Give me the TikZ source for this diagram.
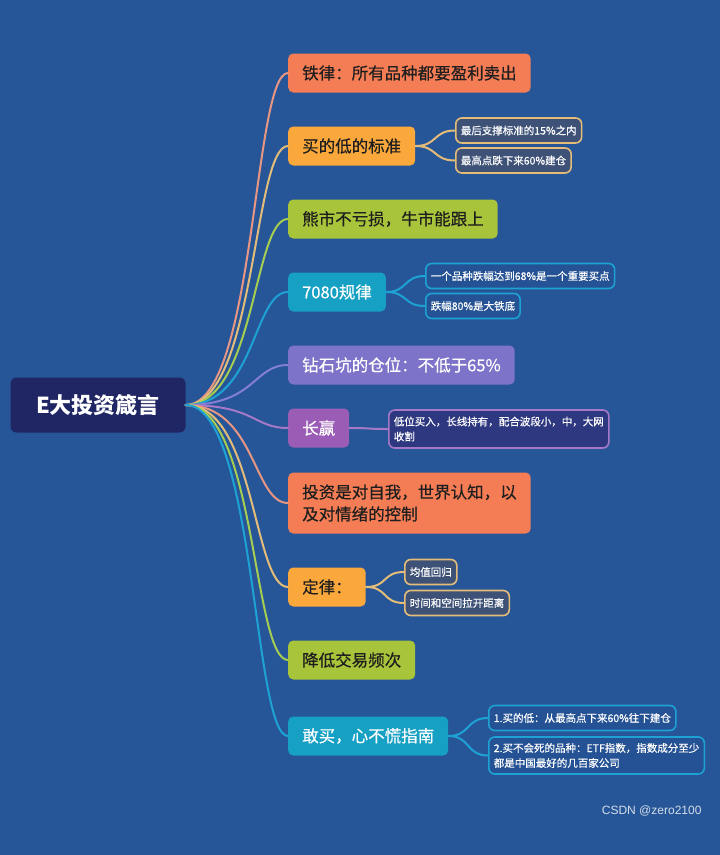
\documentclass[tikz,border=0pt]{standalone}
\usepackage{fontspec}
\newfontfamily\cjk{Noto Sans CJK SC}
\newfontfamily\cjkmed[FakeBold=0.4]{Noto Sans CJK SC}
\newfontfamily\wmfont{Liberation Sans}
\usepackage{tikz}
\usetikzlibrary{positioning,calc,patterns}

\definecolor{bgblue}{RGB}{38,86,152}
\definecolor{rootnavy}{RGB}{31,38,99}
\definecolor{cred}{RGB}{245,125,85}
\definecolor{corange}{RGB}{250,168,60}
\definecolor{cgreen}{RGB}{168,196,58}
\definecolor{cteal}{RGB}{22,160,196}
\definecolor{clav}{RGB}{125,115,200}
\definecolor{cpurple}{RGB}{155,92,182}
\definecolor{lred}{RGB}{232,150,132}
\definecolor{lorange}{RGB}{228,188,122}
\definecolor{lgreen}{RGB}{165,205,82}
\definecolor{lteal}{RGB}{30,162,212}
\definecolor{llav}{RGB}{132,126,215}
\definecolor{lpurple}{RGB}{165,120,200}
\definecolor{leafslate}{RGB}{62,82,120}
\definecolor{leafblue}{RGB}{36,82,148}
\definecolor{leafnavy}{RGB}{46,56,128}
\definecolor{inkdark}{RGB}{30,30,30}

\begin{document}
\begin{tikzpicture}[x=1pt,y=-1pt,
  every node/.style={font=\cjk},
  rootbox/.style={fill=rootnavy, rounded corners=6pt, minimum width=175pt, minimum height=55pt,
    text=white, font=\cjk\bfseries\fontsize{22}{26}\selectfont},
  branch/.style={anchor=west, rounded corners=5pt, minimum height=39pt, inner xsep=14pt,
    align=left, font=\cjkmed\fontsize{16.5}{22}\selectfont},
  warm/.style={branch, fill=#1, text=inkdark},
  cool/.style={branch, fill=#1, text=white},
  leaf/.style={anchor=west, rounded corners=6pt, line width=1.6pt, minimum height=25pt,
    inner xsep=5pt, align=left, text=white, font=\cjkmed\fontsize{10.5}{15}\selectfont},
  tanleaf/.style={leaf, draw=lorange, fill=leafslate},
  tealleaf/.style={leaf, draw=lteal, fill=leafblue},
  purpleaf/.style={leaf, draw=lpurple, fill=leafnavy},
  link/.style={line width=2pt, line cap=round}]

  % background
  \fill[bgblue] (0,0) rectangle (720,855);

  % root
  \node[rootbox] (root) at (98,405) {E大投资箴言};

  % main branches
  \node[warm=cred] (tielv) at (288,73) {铁律：所有品种都要盈利卖出};
  \node[warm=corange] (maidi) at (288,146) {买的低的标准};
  \node[warm=cgreen] (xiongshi) at (288,219) {熊市不亏损，牛市能跟上};
  \node[cool=cteal] (qiba) at (288,292) {7080规律};
  \node[cool=clav] (zuanshi) at (288,365) {钻石坑的仓位：不低于65\%};
  \node[cool=cpurple] (changying) at (288,428) {长赢};
  \node[warm=cred, minimum height=61pt] (touzi) at (288,503) {投资是对自我，世界认知，以\\及对情绪的控制};
  \node[warm=corange] (dinglv) at (288,587) {定律：};
  \node[warm=cgreen] (jiangdi) at (288,660) {降低交易频次};
  \node[cool=cteal] (ganmai) at (288,736) {敢买，心不慌指南};

  % leaves
  \node[tanleaf] (maidiA) at (455,130.5) {最后支撑标准的15\%之内};
  \node[tanleaf] (maidiB) at (455,160.5) {最高点跌下来60\%建仓};
  \node[tealleaf] (qibaA) at (425,276) {一个品种跌幅达到68\%是一个重要买点};
  \node[tealleaf] (qibaB) at (425,306) {跌幅80\%是大铁底};
  \node[purpleaf, minimum height=38pt] (changyingA) at (388,429) {低位买入，长线持有，配合波段小，中，大网\\收割};
  \node[tanleaf] (dinglvA) at (404,572) {均值回归};
  \node[tanleaf] (dinglvB) at (404,603) {时间和空间拉开距离};
  \node[tealleaf] (ganmaiA) at (488,718) {1.买的低：从最高点下来60\%往下建仓};
  \node[tealleaf, minimum height=37pt] (ganmaiB) at (488,755.5) {2.买不会死的品种：ETF指数，指数成分至少\\都是中国最好的几百家公司};

  % root links
  \foreach \dest/\col in {tielv/lred, maidi/lorange, xiongshi/lgreen, qiba/lteal,
      zuanshi/llav, changying/lpurple, touzi/lred, dinglv/lorange, jiangdi/lgreen, ganmai/lteal}
    \draw[link, \col] (root.east) .. controls ($(root.east)+(70,0)$) and ($(\dest.west)+(-35,0)$) .. (\dest.west);

  % leaf links
  \foreach \src/\dest/\col in {maidi/maidiA/lorange, maidi/maidiB/lorange, qiba/qibaA/lteal,
      qiba/qibaB/lteal, changying/changyingA/lpurple, dinglv/dinglvA/lorange,
      dinglv/dinglvB/lorange, ganmai/ganmaiA/lteal, ganmai/ganmaiB/lteal}
    \draw[link, \col] (\src.east) .. controls ($(\src.east)+(22,0)$) and ($(\dest.west)+(-22,0)$) .. (\dest.west);

  % watermark
  \node[anchor=east, text=white!80!bgblue, font=\wmfont\fontsize{12}{14}\selectfont] (mark) at (705,811) {CSDN @zero2100};
\end{tikzpicture}
\end{document}
